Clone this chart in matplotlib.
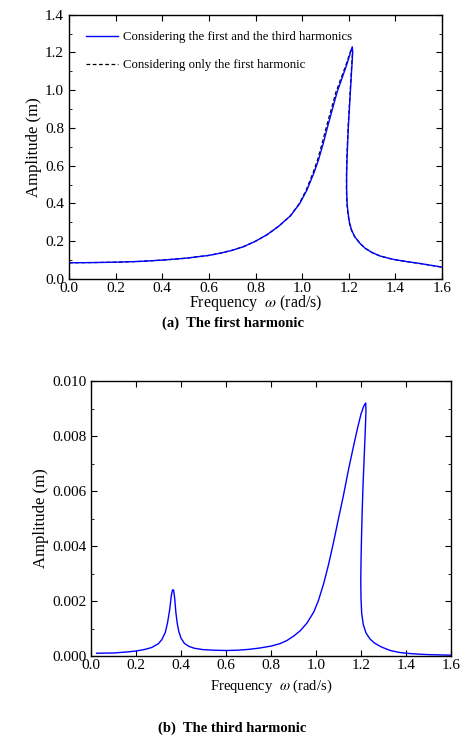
import matplotlib
matplotlib.use("Agg")
import matplotlib.pyplot as plt
from matplotlib.ticker import MultipleLocator, FormatStrFormatter

plt.rcParams['font.family'] = ['Liberation Serif', 'DejaVu Serif']
plt.rcParams['mathtext.fontset'] = 'stix'

# (a) first harmonic (upper branch -> peak -> fold -> lower branch)
w1_both = [0.0, 0.1, 0.2, 0.3, 0.4, 0.5, 0.6, 0.65, 0.7, 0.75, 0.8, 0.85, 0.9, 0.95, 0.99,
           1.02, 1.05, 1.07, 1.09, 1.11, 1.13, 1.15, 1.17, 1.19, 1.205, 1.215,
           1.217, 1.212, 1.205, 1.198, 1.193, 1.191, 1.191, 1.193, 1.197, 1.203, 1.212,
           1.225, 1.248, 1.27, 1.3, 1.334, 1.37, 1.4, 1.45, 1.506, 1.55, 1.6]
a1_both = [0.086, 0.087, 0.089, 0.093, 0.100, 0.110, 0.125, 0.137, 0.152, 0.172, 0.200,
           0.235, 0.280, 0.335, 0.400, 0.47, 0.56, 0.63, 0.715, 0.81, 0.90, 0.99, 1.06,
           1.13, 1.19, 1.23,
           1.20, 1.10, 0.95, 0.80, 0.65, 0.55, 0.47, 0.40, 0.35, 0.30, 0.26,
           0.225, 0.189, 0.163, 0.140, 0.122, 0.110, 0.102, 0.092, 0.082, 0.073, 0.063]

w1_first = [0.0, 0.1, 0.2, 0.3, 0.4, 0.5, 0.6, 0.65, 0.7, 0.75, 0.8, 0.85, 0.9, 0.95, 0.988,
            1.017, 1.046, 1.066, 1.085, 1.105, 1.125, 1.145, 1.166, 1.187, 1.203, 1.213,
            1.216, 1.211, 1.204, 1.197, 1.192, 1.19, 1.19, 1.192, 1.196, 1.202, 1.211,
            1.225, 1.248, 1.27, 1.3, 1.334, 1.37, 1.4, 1.45, 1.506, 1.55, 1.6]
a1_first = [0.086, 0.087, 0.089, 0.093, 0.100, 0.110, 0.125, 0.137, 0.152, 0.172, 0.200,
            0.235, 0.280, 0.335, 0.400, 0.47, 0.56, 0.63, 0.715, 0.81, 0.90, 0.99, 1.06,
            1.13, 1.19, 1.225,
            1.20, 1.10, 0.95, 0.80, 0.65, 0.55, 0.47, 0.40, 0.35, 0.30, 0.26,
            0.225, 0.189, 0.163, 0.140, 0.122, 0.110, 0.102, 0.092, 0.082, 0.073, 0.063]

# (b) third harmonic
w3 = [0.025, 0.1, 0.15, 0.2, 0.24, 0.27, 0.3, 0.315, 0.33, 0.34, 0.35, 0.357, 0.362, 0.367,
      0.372, 0.377, 0.383, 0.39, 0.4, 0.415, 0.435, 0.46, 0.5, 0.55, 0.6, 0.65, 0.7, 0.75,
      0.8, 0.84, 0.87, 0.9, 0.93, 0.96, 0.99, 1.01, 1.033, 1.055, 1.077, 1.1, 1.121, 1.145,
      1.166, 1.185, 1.2, 1.213, 1.221,
      1.222, 1.219, 1.214, 1.209, 1.205, 1.202, 1.2, 1.199, 1.2, 1.203, 1.21, 1.222, 1.24,
      1.26, 1.29, 1.33, 1.37, 1.4, 1.45, 1.5, 1.55, 1.6]
a3 = [0.0001, 0.00011, 0.00014, 0.00018, 0.00024, 0.00031, 0.00045, 0.0006, 0.00085,
      0.0012, 0.0017, 0.0022, 0.0024, 0.0024, 0.0021, 0.0016, 0.0012, 0.0009, 0.00065,
      0.00046, 0.00035, 0.00028, 0.00023, 0.00021, 0.0002, 0.00021, 0.00024, 0.00029,
      0.00036, 0.00045, 0.00056, 0.00072, 0.00092, 0.0012, 0.0016, 0.002, 0.0026, 0.0033,
      0.0041, 0.005, 0.0058, 0.0068, 0.0076, 0.0083, 0.0088, 0.0091, 0.0092,
      0.0089, 0.0082, 0.0072, 0.0062, 0.0052, 0.0042, 0.0034, 0.0027, 0.0021, 0.00156,
      0.00115, 0.00084, 0.00062, 0.00047, 0.00033, 0.0002, 0.00013, 0.0001, 0.00007,
      0.00005, 0.00004, 0.00003]

fig = plt.figure(figsize=(4.65, 7.4), dpi=100)
W, H = 465.0, 740.0
ax1 = fig.add_axes([69 / W, 1 - 279 / H, (442 - 69) / W, (279 - 14.7) / H])
ax2 = fig.add_axes([91 / W, 1 - 656 / H, (451 - 91) / W, (656 - 381) / H])

ax1.plot(w1_first, a1_first, color='black', lw=0.9, ls=(0, (3, 2)),
         label='Considering only the first harmonic')
ax1.plot(w1_both, a1_both, color='blue', lw=1.0,
         label='Considering the first and the third harmonics')
ax1.set_xlim(0, 1.6)
ax1.set_ylim(0, 1.4)
ax1.xaxis.set_major_locator(MultipleLocator(0.2))
ax1.yaxis.set_major_locator(MultipleLocator(0.2))
ax1.yaxis.set_minor_locator(MultipleLocator(0.1))
ax1.set_xlabel(r'Frequency  $\omega$ (rad/s)', fontsize=11.5, labelpad=-1)
ax1.set_ylabel('Amplitude (m)', fontsize=12, labelpad=2)
h, l = ax1.get_legend_handles_labels()
ax1.legend(h[::-1], l[::-1], loc='upper left', frameon=False, fontsize=9.2,
           handlelength=2.5, borderaxespad=0.9, labelspacing=1.25, handletextpad=0.4,
           borderpad=0.4)

ax2.plot(w3, a3, color='blue', lw=1.0)
ax2.set_xlim(0, 1.6)
ax2.set_ylim(0, 0.010)
ax2.xaxis.set_major_locator(MultipleLocator(0.2))
ax2.yaxis.set_major_locator(MultipleLocator(0.002))
ax2.yaxis.set_minor_locator(MultipleLocator(0.001))
ax2.yaxis.set_major_formatter(FormatStrFormatter('%.3f'))
ax2.set_xlabel(r'Frequency  $\omega$ (rad/s)', fontsize=10.5, labelpad=4)
ax2.set_ylabel('Amplitude (m)', fontsize=12, labelpad=2)

for ax in (ax1, ax2):
    ax.tick_params(which='both', direction='in', top=True, right=True, labelsize=11)
    ax.tick_params(axis='x', which='both', pad=2)
    ax.tick_params(axis='y', which='both', pad=3.5)
    ax.tick_params(which='major', length=4)
    ax.tick_params(which='minor', length=2.5)
    for s in ax.spines.values():
        s.set_linewidth(1.0)

fig.text(0.5, 1 - 323 / H, '(a)  The first harmonic', ha='center', va='center',
         fontsize=10.5, fontweight='bold')
fig.text(0.5, 1 - 728 / H, '(b)  The third harmonic', ha='center', va='center',
         fontsize=10.5, fontweight='bold')

fig.savefig('out.png', dpi=100)
